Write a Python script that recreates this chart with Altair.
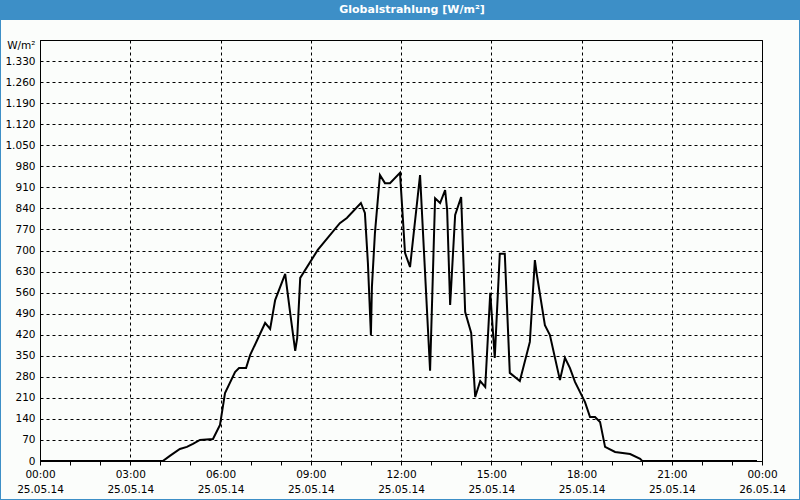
import altair as alt
import pandas as pd

times = ["00:00", "04:05", "04:19", "04:39", "04:53", "05:05", "05:19", "05:45", "05:59",
         "06:09", "06:29", "06:37", "06:51", "06:59", "07:29", "07:39", "07:49", "08:09",
         "08:19", "08:29", "08:33", "08:39", "09:14", "09:58", "10:12", "10:40", "10:48",
         "10:54", "11:00", "11:02", "11:08", "11:18", "11:28", "11:38", "11:58", "12:08",
         "12:18", "12:38", "12:58", "13:08", "13:18", "13:28", "13:32", "13:38", "13:48",
         "14:00", "14:08", "14:20", "14:28", "14:38", "14:48", "14:58", "15:07", "15:17",
         "15:27", "15:37", "15:57", "16:17", "16:27", "16:31", "16:47", "16:57", "17:17",
         "17:27", "17:37", "17:47", "18:07", "18:17", "18:27", "18:37", "18:47", "19:07",
         "19:37", "19:57", "20:01", "23:50"]
values = [0, 0, 17, 40, 47, 57, 70, 73, 120,
          226, 296, 309, 309, 352, 459, 439, 535, 622,
          492, 366, 409, 609, 702, 791, 808, 858, 825,
          658, 419, 579, 758, 951, 924, 924, 958, 692,
          645, 951, 300, 874, 858, 901, 835, 519, 818,
          878, 495, 426, 213, 266, 246, 559, 343, 689,
          689, 293, 266, 396, 668, 619, 452, 419, 269,
          343, 309, 263, 196, 146, 146, 130, 47, 30,
          23, 7, 0, 0]
title_text = "Globalstrahlung [W/m²]"
y_ticks = list(range(0, 1401, 70))
x_hours = list(range(0, 25))

df = pd.DataFrame({"t": ["2014-05-25T" + t for t in times], "v": values})

BLUE = "#3d8fc7"
FONT = "DejaVu Sans"

x_vals = [alt.DateTime(year=2014, month=5, date=25 + h // 24, hours=h % 24) for h in x_hours]

x_axis = alt.Axis(
    values=x_vals,
    title=None,
    labelExpr="hours(datum.value) % 3 == 0 ? [timeFormat(datum.value, '%H:%M'), timeFormat(datum.value, '%d.%m.%y')] : ''",
    labelFont=FONT, labelFontSize=10.5, labelColor="black", labelPadding=4,
    labelLineHeight=15, labelAngle=0, labelFlush=False, labelOverlap=False,
    tickSize=4, tickColor="black", domainColor="black",
    grid=True, gridColor="black", gridDash=[3, 3],
    gridOpacity={"condition": {"test": "hours(datum.value) % 3 == 0", "value": 1}, "value": 0},
)
y_axis = alt.Axis(
    values=y_ticks,
    title=None,
    labelExpr="datum.value == 1400 ? 'W/m²' : replace(format(datum.value, ','), ',', '.')",
    labelFont=FONT, labelFontSize=10.5, labelColor="black", labelPadding=5,
    labelBaseline={"condition": {"test": "datum.value == 1400", "value": "top"}, "value": "middle"},
    labelFlush=False, labelOverlap=False,
    ticks=False, domainColor="black",
    grid=True, gridColor="black", gridDash=[3, 3],
)

line = alt.Chart(df).mark_line(color="black", strokeWidth=2).encode(
    x=alt.X("t:T", axis=x_axis,
            scale=alt.Scale(domain=[alt.DateTime(year=2014, month=5, date=25, hours=0),
                                    alt.DateTime(year=2014, month=5, date=26, hours=0)])),
    y=alt.Y("v:Q", axis=y_axis, scale=alt.Scale(domain=[0, 1400], nice=False)),
)

one = alt.Data(values=[{}])
bar = alt.Chart(one).mark_rect(color=BLUE).encode(
    x=alt.value(-40), x2=alt.value(760), y=alt.value(-40), y2=alt.value(-20))
border = alt.Chart(one).mark_rect(fillOpacity=0, stroke=BLUE, strokeWidth=2).encode(
    x=alt.value(-40), x2=alt.value(760), y=alt.value(-40), y2=alt.value(460))
title = alt.Chart(one).mark_text(color="white", font=FONT, fontSize=11, fontWeight="bold",
                                 align="center", baseline="middle").encode(
    x=alt.value(372), y=alt.value(-30), text=alt.value(title_text))

chart = alt.layer(line, bar, border, title).properties(
    width=722, height=421,
    padding={"left": 40, "top": 40, "right": 38, "bottom": 39},
    autosize=alt.AutoSizeParams(type="none"),
    background="#fbfdfb",
).configure_view(stroke="black", strokeWidth=1)

chart.save("out.html", embed_options={"renderer": "svg", "actions": False})
